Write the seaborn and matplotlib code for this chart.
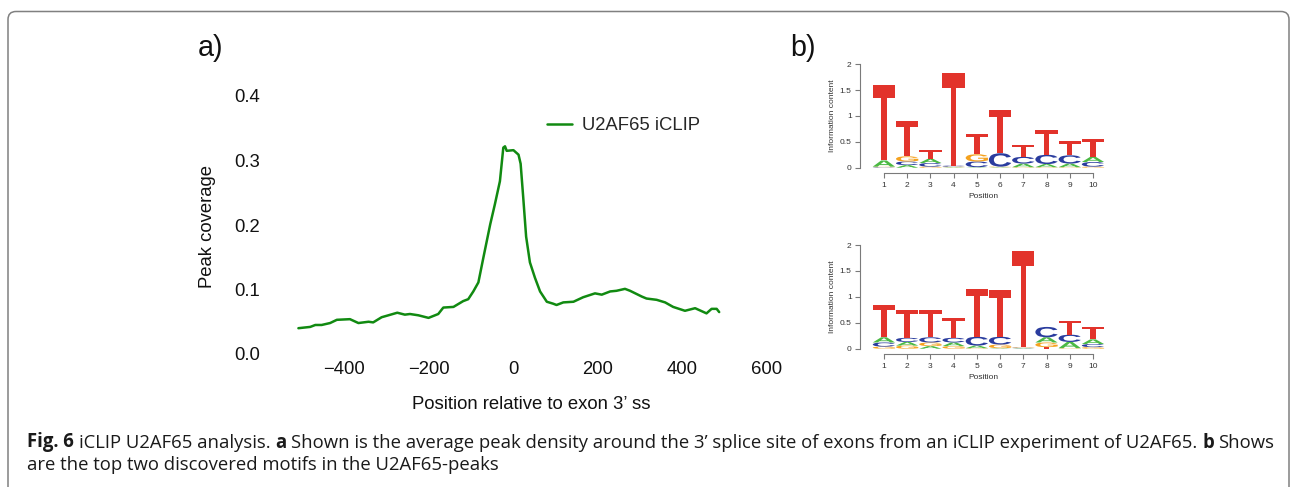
import numpy as np
import pandas as pd
import matplotlib
matplotlib.use("Agg")
import matplotlib.pyplot as plt
import seaborn as sns
from matplotlib.textpath import TextPath
from matplotlib.patches import PathPatch, FancyBboxPatch
from matplotlib.font_manager import FontProperties, fontManager
from matplotlib.transforms import Affine2D, IdentityTransform

# ---------------- data ----------------
position = [-508, -480, -468, -453, -433, -417, -386, -366, -342, -331, -311, -295,
            -274, -256, -244, -224, -200, -177, -165, -141, -118, -106, -94, -82,
            -70, -54, -43, -31, -23, -19, -15, 1, 13, 18, 24, 31, 40, 52, 64, 80,
            95, 103, 119, 143, 166, 194, 210, 230, 245, 265, 277, 305, 316, 340,
            360, 379, 407, 431, 458, 470, 482, 488]
coverage = [0.040, 0.042, 0.045, 0.045, 0.048, 0.053, 0.054, 0.048, 0.050, 0.049,
            0.057, 0.060, 0.064, 0.061, 0.062, 0.060, 0.056, 0.062, 0.072, 0.073,
            0.082, 0.085, 0.097, 0.111, 0.150, 0.201, 0.232, 0.268, 0.320, 0.322,
            0.315, 0.316, 0.309, 0.295, 0.244, 0.182, 0.142, 0.118, 0.097, 0.081,
            0.078, 0.076, 0.080, 0.081, 0.088, 0.094, 0.092, 0.097, 0.098, 0.101,
            0.098, 0.089, 0.086, 0.084, 0.080, 0.073, 0.067, 0.071, 0.063, 0.070,
            0.070, 0.065]
series_label = "U2AF65 iCLIP"
x_ticks = [-400, -200, 0, 200, 400, 600]
y_ticks = [0.0, 0.1, 0.2, 0.3, 0.4]

motif_positions = [1, 2, 3, 4, 5, 6, 7, 8, 9, 10]
motif1_A = [0.12, 0.05, 0.08, 0.01, 0.01, 0.01, 0.07, 0.06, 0.07, 0.10]
motif1_C = [0.01, 0.07, 0.07, 0.02, 0.11, 0.26, 0.13, 0.18, 0.16, 0.09]
motif1_G = [0.01, 0.10, 0.02, 0.01, 0.14, 0.01, 0.01, 0.01, 0.01, 0.02]
motif1_T = [1.45, 0.68, 0.17, 1.79, 0.39, 0.84, 0.23, 0.48, 0.27, 0.35]

motif2_A = [0.10, 0.07, 0.05, 0.07, 0.05, 0.01, 0.01, 0.10, 0.12, 0.09]
motif2_C = [0.08, 0.08, 0.10, 0.09, 0.17, 0.15, 0.01, 0.20, 0.14, 0.06]
motif2_G = [0.04, 0.06, 0.07, 0.05, 0.01, 0.07, 0.01, 0.09, 0.01, 0.03]
motif2_T = [0.62, 0.54, 0.53, 0.39, 0.93, 0.90, 1.86, 0.03, 0.26, 0.23]
logo_yticks = [0, 0.5, 1, 1.5, 2]
logo_yticklabels = ["0", "0.5", "1", "1.5", "2"]

caption_line1 = [("Fig. 6", "bold"), ("iCLIP U2AF65 analysis.", "normal"), ("a", "bold"),
                 ("Shown is the average peak density around the 3\u2019 splice site of exons from an iCLIP experiment of U2AF65.", "normal"),
                 ("b", "bold"), ("Shows", "normal")]
caption_line2 = [("are the top two discovered motifs in the U2AF65-peaks", "normal")]

# ---------------- style ----------------
W, H = 1294, 487
sns.set_theme(style="white")
plt.rcParams["font.family"] = ["Liberation Sans", "DejaVu Sans"]
GREEN = "#118a11"
LETTER_COLORS = {"A": "#4cb944", "C": "#2a3c9e", "G": "#f5a21f", "T": "#e2332b"}

fig = plt.figure(figsize=(W / 100, H / 100), dpi=100)
fig.patch.set_facecolor("white")


def px_axes(l, t, r, b):
    return fig.add_axes([l / W, 1 - b / H, (r - l) / W, (b - t) / H])


# ---------------- panel a ----------------
axA = px_axes(283.2, 96, 785.1, 354)
df = pd.DataFrame({"position": position, "coverage": coverage})
sns.lineplot(data=df, x="position", y="coverage", ax=axA, color=GREEN, lw=1.8,
             label=series_label)
axA.set_xlim(-544, 644)
axA.set_ylim(0, 0.4)
for s in axA.spines.values():
    s.set_visible(False)
axA.set_xticks(x_ticks)
axA.set_xticklabels([f"{v}".replace("-", "\u2212") for v in x_ticks])
axA.set_yticks(y_ticks)
axA.set_yticklabels([f"{v:.1f}" for v in y_ticks])
axA.tick_params(axis="both", length=0, labelsize=13.3, labelcolor="#111111")
axA.tick_params(axis="y", pad=16.5)
axA.tick_params(axis="x", pad=5)
axA.set_xlabel("Position relative to exon 3\u2019 ss", fontsize=13.3, color="#111111")
axA.set_ylabel("Peak coverage", fontsize=13.3, color="#111111")
axA.xaxis.set_label_coords((531 - 283.2) / 501.9, (354 - 404.5) / 258)
axA.xaxis.label.set_va("center")
axA.yaxis.set_label_coords((207.5 - 283.2) / 501.9, (354 - 227) / 258)
axA.yaxis.label.set_va("center")
axA.legend(loc="center left", bbox_to_anchor=((547 - 283.2) / 501.9, (354 - 126) / 258),
           frameon=False, fontsize=13.3, handlelength=1.35, handletextpad=0.55,
           borderpad=0, borderaxespad=0)
axA.grid(False)

# ---------------- panel b (sequence logos) ----------------
letter_fp = FontProperties(family="Liberation Sans", weight="bold")


def draw_letter(ax, letter, x, y0, h, width=0.96):
    tp = TextPath((0, 0), letter, size=1, prop=letter_fp)
    bb = tp.get_extents()
    tr = (Affine2D().translate(-bb.x0, -bb.y0)
          .scale(width / bb.width, h / bb.height)
          .translate(x - width / 2, y0))
    ax.add_patch(PathPatch(tr.transform_path(tp), facecolor=LETTER_COLORS[letter],
                           edgecolor="none", lw=0, clip_on=False))


def draw_logo(ax, A, C, G, T):
    for i, p in enumerate(motif_positions):
        stack = sorted([("A", A[i]), ("C", C[i]), ("G", G[i]), ("T", T[i])],
                       key=lambda t: t[1])
        y0 = 0.0
        for letter, h in stack:
            if h > 0:
                draw_letter(ax, letter, p, y0, h)
            y0 += h
    ax.set_xlim(-0.03, 10.6)
    ax.set_ylim(0, 2)
    ax.set_facecolor("none")
    ax.spines["top"].set_visible(False)
    ax.spines["right"].set_visible(False)
    for sp in ("left", "bottom"):
        ax.spines[sp].set_color("#7a7a7a")
        ax.spines[sp].set_linewidth(0.8)
        ax.spines[sp].set_visible(True)
    ax.spines["bottom"].set_position(("outward", 4))
    ax.spines["bottom"].set_bounds(1, 10)
    ax.spines["left"].set_bounds(0, 2)
    ax.set_xticks(motif_positions)
    ax.set_xticklabels([str(p) for p in motif_positions])
    ax.set_yticks(logo_yticks)
    ax.set_yticklabels(logo_yticklabels)
    ax.tick_params(axis="both", bottom=True, left=True, direction="out", length=3.5,
                   width=0.8, color="#7a7a7a", labelsize=6, labelcolor="#333333", pad=2.5)
    ax.set_xlabel("Position", fontsize=6, color="#333333", labelpad=3)
    ax.set_ylabel("Information content", fontsize=6, color="#333333", labelpad=3)
    ax.grid(False)


ax1 = px_axes(860, 64.3, 1106.9, 167.7)
draw_logo(ax1, motif1_A, motif1_C, motif1_G, motif1_T)
ax2 = px_axes(860, 245, 1106.9, 348.7)
draw_logo(ax2, motif2_A, motif2_C, motif2_G, motif2_T)

# panel labels
fig.text(198 / W, 1 - 56 / H, "a)", fontsize=20.7, color="#111111", va="baseline", ha="left")
fig.text(790 / W, 1 - 56 / H, "b)", fontsize=20.7, color="#111111", va="baseline", ha="left")

# ---------------- caption ----------------
names = {f.name for f in fontManager.ttflist}
cap_family = "Open Sans" if "Open Sans" in names else "DejaVu Sans"
renderer = fig.canvas.get_renderer()


def text_width(s, size, weight):
    t = fig.text(0, 0, s, fontsize=size, fontweight=weight, family=cap_family)
    w = t.get_window_extent(renderer).width
    t.remove()
    return w


def line_width(pieces, size):
    sp = text_width("a a", size, "normal") - text_width("aa", size, "normal")
    return sum(text_width(s, size, wt) for s, wt in pieces) + sp * (len(pieces) - 1)


target = 1277 - 27
cap_size = 10 * target / line_width(caption_line1, 10)


def place_line(pieces, x0, baseline, size):
    sp = text_width("a a", size, "normal") - text_width("aa", size, "normal")
    x = x0
    for s, wt in pieces:
        t = fig.text(x / W, 1 - baseline / H, s, fontsize=size, fontweight=wt,
                     family=cap_family, color="#1a1a1a", va="baseline", ha="left")
        x = t.get_window_extent(renderer).x1 + sp


place_line(caption_line1, 27, 447.5, cap_size)
place_line(caption_line2, 27, 470.5, cap_size)

# outer rounded border (open at the bottom)
border = FancyBboxPatch((8, -20), 1289 - 8, (H - 11.5) + 20,
                        boxstyle="round,pad=0,rounding_size=8",
                        transform=IdentityTransform(), fill=False,
                        edgecolor="#808080", linewidth=1.1)
fig.add_artist(border)

fig.savefig("out.png", dpi=100, facecolor="white")
